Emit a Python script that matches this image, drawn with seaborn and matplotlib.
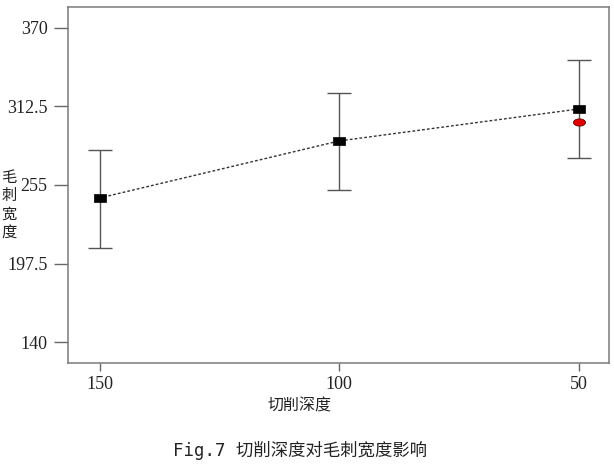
import matplotlib
matplotlib.use("Agg")
import matplotlib.pyplot as plt
import numpy as np
import pandas as pd
import seaborn as sns

# data
depth = [150, 100, 50]
burr_mean = [245.5, 287.2, 310.6]
burr_low = [209.2, 251.3, 274.5]
burr_high = [280.8, 322.0, 346.4]
pred_depth = [50]
pred_value = [301.3]
y_ticks = [140, 197.5, 255, 312.5, 370]
y_ticklabels = ["140", "197.5", "255", "312.5", "370"]
x_ticks = [150, 100, 50]

data = pd.DataFrame({"depth": depth, "mean": burr_mean})
pred = pd.DataFrame({"depth": pred_depth, "value": pred_value})

sns.set_style("ticks")
plt.rcParams["font.family"] = ["Liberation Serif", "Noto Sans CJK SC"]

fig = plt.figure(figsize=(6.14, 4.66), dpi=100)
ax = fig.add_axes([0.1112, 0.2217, 0.8811, 0.7627])

err = [np.array(burr_mean) - np.array(burr_low),
       np.array(burr_high) - np.array(burr_mean)]
ax.errorbar(depth, burr_mean, yerr=err, fmt="none", ecolor="#555555",
            elinewidth=1.0, capsize=8.5, capthick=1.0, zorder=2)

sns.lineplot(data=data, x="depth", y="mean", ax=ax, color="#333333",
             linewidth=1.0, linestyle=(0, (2, 1.5)), zorder=3)

rect = [(-1, -0.62), (1, -0.62), (1, 0.62), (-1, 0.62), (-1, -0.62)]
sns.scatterplot(data=data, x="depth", y="mean", ax=ax, marker=rect,
                s=75, color="black", edgecolor="black", linewidth=0.5, zorder=4)

t = np.linspace(0, 2 * np.pi, 40)
ell = list(zip(np.cos(t), 0.6 * np.sin(t)))
sns.scatterplot(data=pred, x="depth", y="value", ax=ax, marker=ell,
                s=75, color="#e00000", edgecolor="#600000", linewidth=0.6, zorder=4)

ax.set_xlim(156.55, 43.68)
ax.set_ylim(125.1, 384.9)
ax.set_xticks(x_ticks)
ax.set_xticklabels([str(v) for v in x_ticks])
ax.set_yticks(y_ticks)
ax.set_yticklabels(y_ticklabels)
ax.set_xlabel("")
ax.set_ylabel("")

for s in ax.spines.values():
    s.set_color("#7a7a7a")
    s.set_linewidth(1.1)
ax.tick_params(axis="y", length=10, width=1.0, color="#666666", pad=5,
               labelsize=13, labelcolor="#222222")
ax.tick_params(axis="x", length=5.5, width=1.0, color="#666666", pad=4,
               labelsize=13, labelcolor="#222222")

fig.text(300 / 614, 1 - 406 / 466, "切削深度", ha="center", va="center",
         fontsize=11.5, family=["Noto Sans CJK SC"], color="#222222")
fig.text(9 / 614, 1 - 205 / 466, "毛\n刺\n宽\n度", ha="center", va="center",
         fontsize=11, linespacing=1.1, family=["Noto Sans CJK SC"], color="#222222")
fig.text(300 / 614, 1 - 450 / 466, "Fig.7 切削深度对毛刺宽度影响", ha="center",
         va="center", fontsize=12.5, family=["DejaVu Sans Mono", "Noto Sans CJK SC"],
         color="#222222")

fig.savefig("out.png", dpi=100, facecolor="white")
